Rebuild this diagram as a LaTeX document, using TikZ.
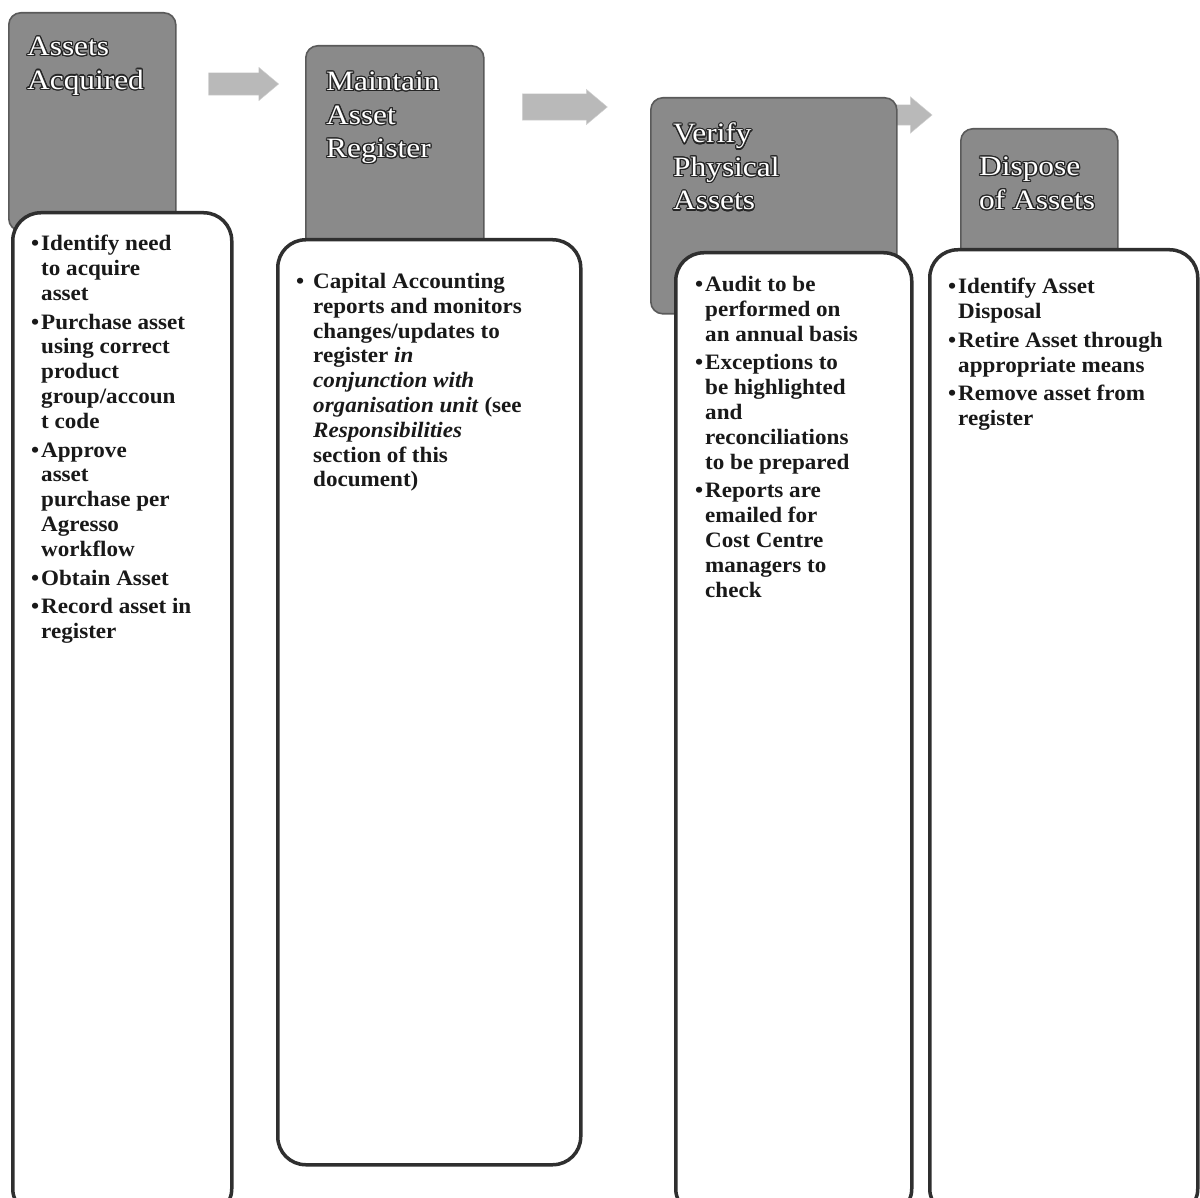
\documentclass[tikz,border=0pt]{standalone}
\usepackage{fontspec}
\setmainfont{Liberation Serif}[FakeStretch=1.05]
\newfontfamily\hdfont{Liberation Serif}[FakeStretch=1.12]
\usepackage{contour}
\contourlength{1.2pt}
\usetikzlibrary{shapes.arrows,positioning}

\definecolor{hdgray}{HTML}{8A8A8A}
\definecolor{hdrim}{HTML}{5A5A5A}
\definecolor{flowgray}{HTML}{B9B9B9}
\definecolor{noterim}{HTML}{2F2F2F}

\newcommand{\bul}[1][10pt]{\makebox[#1][l]{\textbullet}}
\newcommand{\ind}[1][10pt]{\hspace*{#1}}
\newcommand{\hd}[1]{\contour{black!85}{#1}}

\tikzset{
  hdbox/.style={draw=hdrim, line width=1.6pt, fill=hdgray, rounded corners=12pt, anchor=north west, inner sep=0pt},
  notebox/.style={draw=noterim, line width=3.5pt, fill=white, rounded corners=28pt, anchor=north west, inner sep=0pt},
  hdtext/.style={anchor=north west, inner sep=0pt, align=left, text=white, font=\hdfont\fontsize{28}{33.5}\selectfont},
  notetext/.style={anchor=north west, inner sep=0pt, align=left, text=black!90, font=\fontsize{22}{24.8}\selectfont\bfseries},
  flow/.style={single arrow, draw=black!18, fill=flowgray, inner xsep=0pt, minimum width=0pt, single arrow tip angle=80}
}

\begin{document}
\begin{tikzpicture}[x=1pt,y=-1pt]
\useasboundingbox (0,0) rectangle (1200,1198);
\clip (0,0) rectangle (1200,1198);
\fill[white] (0,0) rectangle (1200,1198);

\node[flow, minimum height=70pt, inner ysep=11pt, single arrow head extend=5.5pt](arr1) at (237,84) {};
\node[flow, minimum height=85pt, inner ysep=13pt, single arrow head extend=4.5pt](arr2) at (557,107) {};
\node[flow, minimum height=62pt, inner ysep=10pt, single arrow head extend=8pt](arr3) at (895,115) {};

\node[hdbox, minimum width=167pt, minimum height=218pt](hd1) at (8,12) {};
\node[hdbox, minimum width=178pt, minimum height=210pt](hd2) at (305,45) {};
\node[hdbox, minimum width=246pt, minimum height=216pt](hd3) at (650,97) {};
\node[hdbox, minimum width=157pt, minimum height=134pt](hd4) at (960,128) {};

\node[hdtext](t1) at (27,37) {\hd{Assets}\\\hd{Acquired}};
\node[hdtext](t2) at (326,72) {\hd{Maintain}\\\hd{Asset}\\\hd{Register}};
\node[hdtext](t3) at (673,123) {\hd{Verify}\\\hd{Physical}\\\hd{Assets}};
\node[hdtext](t4) at (979,157) {\hd{Dispose}\\\hd{of Assets}};

\node[notebox, minimum width=219pt, minimum height=1004pt](nb1) at (11,211) {};
\node[notebox, minimum width=303pt, minimum height=925pt](nb2) at (276,238) {};
\node[notebox, minimum width=236pt, minimum height=964pt](nb3) at (674,251) {};
\node[notebox, minimum width=268pt, minimum height=967pt](nb4) at (928,248) {};

\node[notetext](n1) at (31,235) {\bul Identify need\\ \ind to acquire\\ \ind asset\\[4pt]
  \bul Purchase asset\\ \ind using correct\\ \ind product\\ \ind group/accoun\\ \ind t code\\[4pt]
  \bul Approve\\ \ind asset\\ \ind purchase per\\ \ind Agresso\\ \ind workflow\\[4pt]
  \bul Obtain Asset\\[4pt]
  \bul Record asset in\\ \ind register};
\node[notetext](n2) at (296,273) {\bul[17pt]Capital Accounting\\ \ind[17pt]reports and monitors\\
  \ind[17pt]changes/updates to\\ \ind[17pt]register \textit{in}\\ \ind[17pt]\textit{conjunction with}\\
  \ind[17pt]\textit{organisation unit} (see\\ \ind[17pt]\textit{Responsibilities}\\
  \ind[17pt]section of this\\ \ind[17pt]document)};
\node[notetext](n3) at (695,276) {\bul Audit to be\\ \ind performed on\\ \ind an annual basis\\[4pt]
  \bul Exceptions to\\ \ind be highlighted\\ \ind and\\ \ind reconciliations\\ \ind to be prepared\\[4pt]
  \bul Reports are\\ \ind emailed for\\ \ind Cost Centre\\ \ind managers to\\ \ind check};
\node[notetext](n4) at (948,278) {\bul Identify Asset\\ \ind Disposal\\[4pt]
  \bul Retire Asset through\\ \ind appropriate means\\[4pt]
  \bul Remove asset from\\ \ind register};
\end{tikzpicture}
\end{document}
